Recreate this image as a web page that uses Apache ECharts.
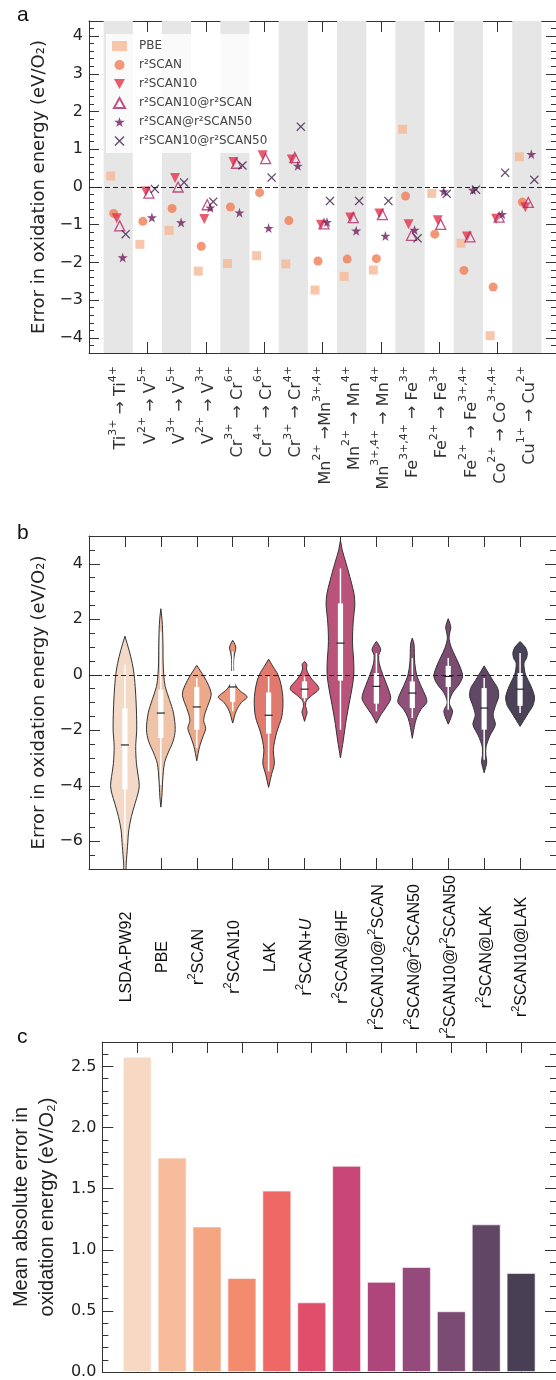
<!DOCTYPE html>
<html><head><meta charset="utf-8">
<script src="https://cdn.jsdelivr.net/npm/echarts@6/dist/echarts.min.js"></script>
<style>html,body{margin:0;padding:0;background:#fff}#c{width:556px;height:1380px}</style>
</head><body><div id="c"></div>
<script>
// ---------- Panel a data ----------
const transitions = ['Ti^{3+} → Ti^{4+}','V^{2+} → V^{5+}','V^{3+} → V^{5+}','V^{2+} → V^{3+}',
  'Cr^{3+} → Cr^{6+}','Cr^{4+} → Cr^{6+}','Cr^{3+} → Cr^{4+}','Mn^{2+} →Mn^{3+,4+}',
  'Mn^{2+} → Mn^{4+}','Mn^{3+,4+} → Mn^{4+}','Fe^{3+,4+} → Fe^{3+}','Fe^{2+} → Fe^{3+}',
  'Fe^{2+} → Fe^{3+,4+}','Co^{2+} → Co^{3+,4+}','Cu^{1+} → Cu^{2+}'];
const methodsA = ['PBE','r²SCAN','r²SCAN10','r²SCAN10@r²SCAN','r²SCAN@r²SCAN50','r²SCAN10@r²SCAN50'];
const errPBE      = [0.29,-1.52,-1.15,-2.23,-2.03,-1.82,-2.04,-2.73,-2.37,-2.20,1.53,-0.17,-1.49,-3.94,0.80];
const errR2SCAN   = [-0.70,-0.91,-0.57,-1.57,-0.53,-0.15,-0.89,-1.96,-1.91,-1.90,-0.24,-1.25,-2.21,-2.65,-0.40];
const errR2SCAN10 = [-0.83,-0.12,0.24,-0.85,0.66,0.84,0.73,-1.00,-0.81,-0.70,-0.99,-0.88,-1.31,-0.84,-0.54];
const err10at     = [-1.03,-0.16,0.00,-0.47,0.63,0.75,0.78,-0.98,-0.81,-0.73,-1.28,-0.99,-1.32,-0.80,-0.41];
const errAt50     = [-1.87,-0.81,-0.94,-0.55,-0.68,-1.09,0.56,-0.93,-1.16,-1.30,-1.14,-0.12,-0.08,-0.72,0.87];
const err10at50   = [-1.25,-0.05,0.12,-0.39,0.57,0.25,1.60,-0.37,-0.37,-0.37,-1.36,-0.18,-0.07,0.38,0.19];

// ---------- Panel b data ----------
const methodsB = ['LSDA-PW92','PBE','r^{2}SCAN','r^{2}SCAN10','LAK','r^{2}SCAN+*U*','r^{2}SCAN@HF',
  'r^{2}SCAN10@r^{2}SCAN','r^{2}SCAN@r^{2}SCAN50','r^{2}SCAN10@r^{2}SCAN50','r^{2}SCAN@LAK','r^{2}SCAN10@LAK'];
// violin outlines: [error value, relative density]
const violin0 = [[1.39,0],[0.88,0.29],[0.41,0.51],[0,0.64],[-0.55,0.73],[-1.27,0.8],[-1.99,0.82],[-2.59,0.75],[-3.19,0.8],[-3.67,0.93],[-4.0,1.0],[-4.3,0.9],[-4.63,0.71],[-5.11,0.45],[-5.59,0.27],[-6.19,0.18],[-6.79,0.09],[-7.1,0.06]];
const violin1 = [[2.38,0],[2.0,0.08],[1.62,0.12],[1.02,0.15],[0.42,0.16],[0,0.2],[-0.42,0.3],[-0.9,0.6],[-1.38,0.88],[-1.98,1.0],[-2.4,0.85],[-2.82,0.5],[-3.19,0.25],[-3.79,0.13],[-4.39,0.07],[-4.77,0]];
const violin2 = [[0.34,0],[0.1,0.3],[-0.2,0.65],[-0.55,0.95],[-0.75,1.0],[-1.0,0.85],[-1.35,0.6],[-1.65,0.48],[-1.93,0.62],[-2.2,0.45],[-2.58,0.2],[-3.1,0]];
const violin3 = [[1.24,0],[1.1,0.15],[0.96,0.22],[0.8,0.15],[0.55,0.07],[0.1,0.07],[-0.3,0.13],[-0.55,0.45],[-0.8,1.0],[-1.0,0.6],[-1.3,0.25],[-1.74,0]];
const violin4 = [[0.56,0],[0.3,0.3],[0,0.65],[-0.4,0.88],[-0.9,1.0],[-1.5,0.92],[-2.1,0.55],[-2.7,0.33],[-3.2,0.4],[-3.6,0.2],[-4.06,0]];
const violin5 = [[0.48,0],[0.36,0.17],[0.24,0.13],[0.1,0.2],[-0.12,0.45],[-0.5,1.0],[-0.75,0.5],[-0.95,0.12],[-1.15,0.08],[-1.35,0.18],[-1.5,0.1],[-1.68,0]];
const violin6 = [[4.85,0],[4.5,0.12],[4.0,0.4],[3.4,0.72],[2.9,0.95],[2.5,1.0],[2.0,0.9],[1.4,0.84],[1.0,0.85],[0.5,0.92],[0,0.93],[-0.5,0.8],[-0.91,0.65],[-1.63,0.4],[-2.35,0.2],[-3.0,0]];
const violin7 = [[1.2,0],[1.05,0.2],[0.9,0.3],[0.7,0.16],[0.4,0.2],[0,0.45],[-0.4,0.75],[-0.85,1.0],[-1.15,0.7],[-1.45,0.3],[-1.75,0]];
const violin8 = [[1.32,0],[1.1,0.12],[0.8,0.14],[0.42,0.17],[0,0.3],[-0.4,0.6],[-0.8,0.95],[-1.0,1.0],[-1.25,0.6],[-1.55,0.3],[-1.9,0.13],[-2.29,0]];
const violin9 = [[2.02,0],[1.85,0.12],[1.7,0.18],[1.5,0.1],[1.3,0.06],[1.0,0.2],[0.6,0.55],[0.25,0.85],[-0.06,1.0],[-0.35,0.75],[-0.65,0.3],[-0.9,0.1],[-1.05,0.08],[-1.3,0.3],[-1.5,0.22],[-1.78,0]];
const violin10 = [[0.32,0],[0.1,0.25],[-0.2,0.6],[-0.5,0.95],[-0.8,1.0],[-1.1,0.8],[-1.45,0.62],[-1.8,0.78],[-2.2,0.4],[-2.6,0.13],[-2.9,0.12],[-3.15,0.18],[-3.53,0]];
const violin11 = [[1.2,0],[1.0,0.35],[0.8,0.5],[0.6,0.45],[0.42,0.27],[0.2,0.3],[0,0.38],[-0.4,0.75],[-0.8,1.0],[-1.1,0.9],[-1.4,0.55],[-1.65,0.25],[-1.86,0]];
const violins = [violin0,violin1,violin2,violin3,violin4,violin5,violin6,violin7,violin8,violin9,violin10,violin11];
// box stats: [whisker low, q1, median, q3, whisker high]
const boxLow  = [-6.07,-3.97,-2.64,-1.32,-3.48,-0.96,-1.98,-1.32,-1.56,-1.26,-3.06,-1.38];
const boxQ1   = [-4.13,-2.28,-1.98,-0.98,-2.12,-0.84,-0.21,-1.04,-1.20,-0.44,-1.98,-1.12];
const boxMed  = [-2.53,-1.38,-1.16,-0.44,-1.46,-0.52,1.14,-0.42,-0.66,-0.06,-1.20,-0.52];
const boxQ3   = [-1.21,-0.54,-0.44,0.14,-0.64,-0.24,2.57,0.06,-0.24,0.32,-0.48,0.06];
const boxHigh = [0.36,1.56,-0.12,0.84,-0.06,-0.06,3.83,0.78,0.60,0.60,-0.12,0.78];

// ---------- Panel c data ----------
const mae = [2.58,1.754,1.19,0.77,1.484,0.57,1.687,0.738,0.86,0.497,1.208,0.811];

// ---------- styles ----------
const violinColors = ['#f3d9c6','#efc3a7','#eba98a','#ea9478','#e07a6e','#d65d74','#ba537a','#a4507c','#8f5079','#7a4c72','#604866','#4a4256'];
const barColors = ['#f7d8c2','#f6bc9c','#f4a582','#f38b6f','#ee6966','#e04e6c','#c94776','#ae467c','#954a7c','#7b4b73','#614666','#483f54'];
const FRAME = '#333';

function toRich(s){
  const out=[]; const re=/\^\{([^}]*)\}|\*([^*]*)\*/g; let last=0,m;
  while((m=re.exec(s))){
    if(m.index>last) out.push('{n|'+s.slice(last,m.index)+'}');
    if(m[1]!==undefined) out.push('{s|'+m[1]+'}'); else out.push('{i|'+m[2]+'}');
    last=re.lastIndex;
  }
  if(last<s.length) out.push('{n|'+s.slice(last)+'}');
  return out.join('');
}
function range(a,b,step){const r=[];const n=Math.round((b-a)/step);for(let k=0;k<=n;k++)r.push(Math.round((a+k*step)*1000)/1000);return r;}
const minusFmt = v => (v<0?'−'+Math.abs(v):String(v));

function xAx(grid,pos,min,max,ticks,label){
  return {type:'value',gridIndex:grid,position:pos,min:min,max:max,splitLine:{show:false},
    axisLine:{show:true,onZero:false,lineStyle:{color:FRAME,width:1}},
    axisTick:{show:true,inside:true,length:11,customValues:ticks,lineStyle:{color:FRAME,width:1}},
    axisLabel: label ? Object.assign({customValues:ticks},label) : {show:false}};
}
function yAx(grid,pos,min,max,ticks,len,line,label,name){
  const a={type:'value',gridIndex:grid,position:pos,min:min,max:max,splitLine:{show:false},
    axisLine:{show:line,onZero:false,lineStyle:{color:FRAME,width:1}},
    axisTick:{show:true,inside:true,length:len,customValues:ticks,lineStyle:{color:FRAME,width:1}},
    axisLabel: label ? Object.assign({customValues:ticks},label) : {show:false}};
  if(name) Object.assign(a,name);
  return a;
}
const tickLabel = {fontFamily:'DejaVu Sans',fontSize:16,color:'#222',margin:6};

const idxA = transitions.map((_,i)=>i);
const idxB = methodsB.map((_,i)=>i);

const xAxis = [
  xAx(0,'bottom',-1,15,idxA,{rotate:90,margin:13,formatter:v=>toRich(transitions[v]),
     rich:{n:{fontFamily:'DejaVu Sans',fontSize:16,color:'#333',lineHeight:22,verticalAlign:'bottom'},
           s:{fontFamily:'DejaVu Sans',fontSize:11,color:'#333',lineHeight:11,verticalAlign:'top'}}}),
  xAx(0,'top',-1,15,idxA,null),
  xAx(1,'bottom',-1,12,idxB,{rotate:90,margin:88,align:'center',verticalAlign:'middle',formatter:v=>toRich(methodsB[v]),
     rich:{n:{fontFamily:'Liberation Sans',fontSize:16,color:'#111',lineHeight:20,verticalAlign:'bottom'},
           s:{fontFamily:'Liberation Sans',fontSize:11,color:'#111',lineHeight:11,verticalAlign:'top'},
           i:{fontFamily:'Liberation Sans',fontSize:16,fontStyle:'italic',color:'#111',lineHeight:20,verticalAlign:'bottom'}}}),
  xAx(1,'top',-1,12,idxB,null),
  xAx(2,'bottom',-1,12,idxB,null),
  xAx(2,'top',-1,12,idxB,null)
];
const nameStyleA = {name:'Error in oxidation energy (eV/O₂)',nameLocation:'middle',nameGap:32,nameRotate:90,
  nameTextStyle:{fontFamily:'DejaVu Sans',fontSize:18,color:'#222'}};
const nameStyleC = {name:'Mean absolute error in\noxidation energy (eV/O₂)',nameLocation:'middle',nameGap:36,nameRotate:90,
  nameTextStyle:{fontFamily:'Liberation Sans',fontSize:20,color:'#222',lineHeight:26}};
const yAxis = [
  yAx(0,'left',-4.4,4.4,range(-4,4,1),10,true,Object.assign({formatter:minusFmt},tickLabel),nameStyleA),
  yAx(0,'left',-4.4,4.4,range(-4.4,4.4,0.2),5,false,null),
  yAx(0,'right',-4.4,4.4,range(-4,4,1),10,true,null),
  yAx(0,'right',-4.4,4.4,range(-4.4,4.4,0.2),5,false,null),
  yAx(1,'left',-7,5,range(-6,4,2),11,true,Object.assign({formatter:minusFmt},tickLabel),Object.assign({},nameStyleA)),
  yAx(1,'left',-7,5,range(-7,5,0.5),6,false,null),
  yAx(1,'right',-7,5,range(-6,4,2),11,true,null),
  yAx(1,'right',-7,5,range(-7,5,0.5),6,false,null),
  yAx(2,'left',0,2.7,range(0,2.5,0.5),11,true,Object.assign({formatter:v=>v.toFixed(1)},tickLabel),nameStyleC),
  yAx(2,'left',0,2.7,range(0,2.7,0.1),6,false,null),
  yAx(2,'right',0,2.7,range(0,2.5,0.5),11,true,null),
  yAx(2,'right',0,2.7,range(0,2.7,0.1),6,false,null)
];

const pts = arr => arr.map((v,i)=>[i,v]);
const starPath = 'path://M5,0L6.2,3.6L10,3.6L6.9,5.9L8.1,9.5L5,7.3L1.9,9.5L3.1,5.9L0,3.6L3.8,3.6Z';
const xPath = 'path://M0,1L1,0L5,4L9,0L10,1L6,5L10,9L9,10L5,6L1,10L0,9L4,5Z';
const triDown = 'path://M0,0L10,0L5,9Z';
const triUp = 'path://M5,0L10,9L0,9Z';
const bands = idxA.filter(i=>i%2===0).map(i=>[{xAxis:i-0.5},{xAxis:i+0.5}]);

function scat(name,data,symbol,size,dx,style,extra){
  return Object.assign({type:'scatter',name:name,xAxisIndex:0,yAxisIndex:0,data:pts(data),symbol:symbol,symbolSize:size,
    symbolOffset:[dx,0],itemStyle:style,z:5,emphasis:{disabled:true}},extra||{});
}

const series = [
  scat(methodsA[0],errPBE,'rect',9,-7.5,{color:'#f6b896'},{
     markArea:{silent:true,itemStyle:{color:'#e6e6e6'},data:bands},
     markLine:{silent:true,symbol:'none',label:{show:false},lineStyle:{color:'#222',type:[5,3],width:1.2},data:[{yAxis:0}],z:10}}),
  scat(methodsA[1],errR2SCAN,'circle',9,-4.5,{color:'#f07d55'}),
  scat(methodsA[2],errR2SCAN10,triDown,10,-1.5,{color:'#e3334a'}),
  scat(methodsA[3],err10at,triUp,10,1.5,{color:'rgba(255,255,255,0)',borderColor:'#b52565',borderWidth:1.3}),
  scat(methodsA[4],errAt50,starPath,10,4.5,{color:'#6e1f5d'}),
  scat(methodsA[5],err10at50,xPath,9,7.5,{color:'#3d1e48'}),
  {type:'custom',xAxisIndex:2,yAxisIndex:4,clip:true,data:idxB.map(i=>[i,boxMed[i]]),encode:{x:0,y:1},
    renderItem:function(params,api){
      const i=api.value(0); const prof=violins[i]; const hw=0.4; const P=[];
      prof.forEach(p=>P.push(api.coord([i+p[1]*hw,p[0]])));
      for(let k=prof.length-1;k>=0;k--) P.push(api.coord([i-prof[k][1]*hw,prof[k][0]]));
      const cx=api.coord([i,0])[0];
      const yy=v=>api.coord([i,v])[1];
      return {type:'group',children:[
        {type:'polygon',shape:{points:P,smooth:0.3},style:{fill:violinColors[i],stroke:'#333',lineWidth:1}},
        {type:'line',shape:{x1:cx,y1:yy(boxHigh[i]),x2:cx,y2:yy(boxLow[i])},style:{stroke:'#fff',lineWidth:1.5}},
        {type:'rect',shape:{x:cx-2.6,y:yy(boxQ3[i]),width:5.2,height:yy(boxQ1[i])-yy(boxQ3[i])},style:{fill:'#fff'}},
        {type:'line',shape:{x1:cx-4,y1:yy(boxMed[i]),x2:cx+4,y2:yy(boxMed[i])},style:{stroke:'#222',lineWidth:1.2}}
      ]};
    },
    markLine:{silent:true,symbol:'none',label:{show:false},lineStyle:{color:'#222',type:[5,3],width:1.2},data:[{yAxis:0}],z:10}
  },
  {type:'bar',xAxisIndex:4,yAxisIndex:8,barWidth:29,data:mae.map((v,i)=>({value:[i,v],itemStyle:{color:barColors[i],borderColor:'rgba(255,255,255,0.6)',borderWidth:1}})),
    emphasis:{disabled:true}}
];

const chart = echarts.init(document.getElementById('c'),null,{width:556,height:1380});
chart.setOption({
  animation:false,
  backgroundColor:'#fff',
  title:[
    {text:'a',left:12,top:0,textStyle:{fontFamily:'Liberation Sans',fontSize:21,fontWeight:'normal',color:'#111'}},
    {text:'b',left:12,top:518,textStyle:{fontFamily:'Liberation Sans',fontSize:21,fontWeight:'normal',color:'#111'}},
    {text:'c',left:12,top:1022,textStyle:{fontFamily:'Liberation Sans',fontSize:21,fontWeight:'normal',color:'#111'}}
  ],
  grid:[
    {left:89,top:21,width:470,height:332},
    {left:89,top:536,width:470,height:333},
    {left:89,top:1042,width:470,height:333}
  ],
  legend:{orient:'vertical',left:106,top:34,itemWidth:15,itemHeight:10,itemGap:5,padding:[5,8,5,6],
    backgroundColor:'rgba(255,255,255,0.8)',data:methodsA,selectedMode:false,
    textStyle:{fontFamily:'DejaVu Sans',fontSize:12,lineHeight:14,color:'#444',padding:[0,0,0,7]}},
  xAxis:xAxis,
  yAxis:yAxis,
  series:series
});
</script></body></html>
